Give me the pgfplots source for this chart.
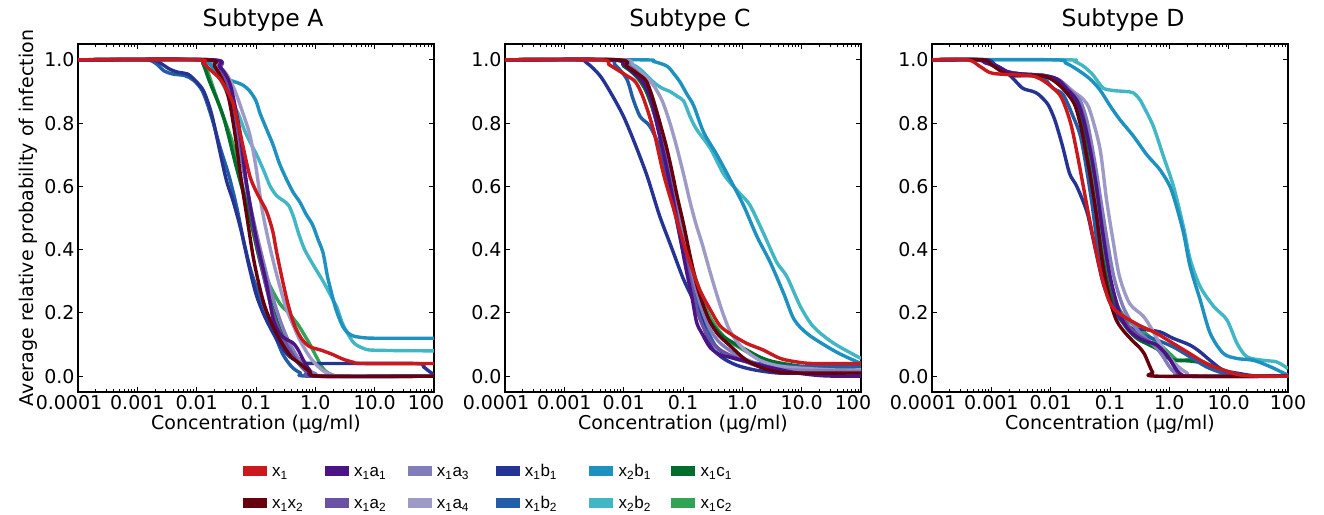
\documentclass[border=0pt]{standalone}
\usepackage{fontspec}
\setmainfont{DejaVu Sans}
\newfontfamily\legfont{Liberation Sans}
\usepackage{pgfplots}
\pgfplotsset{compat=1.18}
\definecolor{cA}{HTML}{CB181D}% x1
\definecolor{cB}{HTML}{67000D}% x1x2
\definecolor{cC}{HTML}{4A1486}% x1a1
\definecolor{cD}{HTML}{6A51A3}% x1a2
\definecolor{cE}{HTML}{807DBA}% x1a3
\definecolor{cF}{HTML}{9E9AC8}% x1a4
\definecolor{cG}{HTML}{253494}% x1b1
\definecolor{cH}{HTML}{225EA8}% x1b2
\definecolor{cI}{HTML}{1D91C0}% x2b1
\definecolor{cJ}{HTML}{41B6C4}% x2b2
\definecolor{cK}{HTML}{006D2C}% x1c1
\definecolor{cL}{HTML}{31A354}% x1c2
\newcommand{\tl}[1]{\mbox{\fontsize{19}{22}\selectfont #1}}
\newcommand{\lent}[2]{\makebox[#1pt][l]{\strut #2}}
\pgfplotsset{
  panel/.style={
    width=356pt, height=348pt, scale only axis, anchor=south west,
    xmin=-4, xmax=2, ymin=-0.05, ymax=1.05,
    xtick={-4,-3,-2,-1,0,1,2},
    minor xtick={-3.699,-3.523,-3.398,-3.301,-3.222,-3.155,-3.097,-3.046,
      -2.699,-2.523,-2.398,-2.301,-2.222,-2.155,-2.097,-2.046,
      -1.699,-1.523,-1.398,-1.301,-1.222,-1.155,-1.097,-1.046,
      -0.699,-0.523,-0.398,-0.301,-0.222,-0.155,-0.097,-0.046,
      0.301,0.477,0.602,0.699,0.778,0.845,0.903,0.954,
      1.301,1.477,1.602,1.699,1.778,1.845,1.903,1.954},
    ytick={0,0.2,0.4,0.6,0.8,1},
    yticklabels={\tl{0.0},\tl{0.2},\tl{0.4},\tl{0.6},\tl{0.8},\tl{1.0}},
    tick align=inside, xtick pos=both, ytick pos=both,
    major tick length=5pt, minor tick length=3pt,
    every tick/.style={black, line width=0.9pt},
    axis line style={line width=1.2pt, black},
    tick label style={font=\fontsize{19}{22}\selectfont},
    label style={font=\fontsize{19}{22}\selectfont},
    title style={font=\fontsize{23.5}{28}\selectfont, at={(0.5,1)}, anchor=base, yshift=11pt},
    xlabel={Concentration (µg/ml)},
    xlabel style={yshift=2pt},
  },
  cv/.style={line width=3.4pt, smooth, tension=0.5, forget plot, line join=round},
}
\begin{document}
\begin{tikzpicture}
\useasboundingbox (0,0) rectangle (1324pt,514pt);
% ---------------- Subtype A ----------------
\begin{axis}[panel, at={(78pt,122pt)}, title={Subtype A}, title style={xshift=7pt},
  xticklabels={\tl{\hspace*{-18pt}0.0001},\tl{0.001},\tl{0.01},\tl{0.1},\tl{1.0},\tl{10.0},\tl{\hspace*{-16pt}100}},
  ylabel={Average relative probability of infection}]
\addplot[cv, cL] coordinates {(-4,1)(-1.95,1)(-1.85,0.98)(-1.7,0.9)(-1.55,0.82)(-1.4,0.74)(-1.25,0.62)(-1.1,0.5)(-0.95,0.38)(-0.8,0.3)(-0.6,0.23)(-0.45,0.2)(-0.3,0.165)(-0.2,0.135)(-0.09,0.1)(0.05,0.05)(0.15,0.02)(0.3,0.003)(0.5,0)(2,0)};
\addplot[cv, cK] coordinates {(-4,1)(-2,1)(-1.9,0.99)(-1.78,0.93)(-1.55,0.82)(-1.33,0.66)(-1.1,0.5)(-0.93,0.36)(-0.76,0.24)(-0.6,0.15)(-0.45,0.09)(-0.3,0.045)(-0.15,0.015)(0,0.003)(0.2,0)(2,0)};
\addplot[cv, cJ] coordinates {(-4,1)(-1.9,1)(-1.75,0.98)(-1.6,0.94)(-1.45,0.88)(-1.3,0.83)(-1.2,0.78)(-1.1,0.74)(-0.99,0.70)(-0.87,0.65)(-0.76,0.60)(-0.65,0.57)(-0.54,0.555)(-0.45,0.54)(-0.37,0.505)(-0.28,0.45)(-0.18,0.4)(-0.03,0.35)(0.1,0.31)(0.19,0.28)(0.3,0.24)(0.36,0.22)(0.45,0.17)(0.53,0.14)(0.65,0.105)(0.81,0.088)(1.0,0.082)(2,0.08)};
\addplot[cv, cI] coordinates {(-4,1)(-2,1)(-1.8,0.99)(-1.65,0.96)(-1.5,0.94)(-1.35,0.93)(-1.22,0.92)(-1.1,0.9)(-1.0,0.87)(-0.93,0.83)(-0.82,0.78)(-0.71,0.73)(-0.6,0.67)(-0.48,0.62)(-0.37,0.58)(-0.26,0.55)(-0.15,0.51)(-0.05,0.48)(0.05,0.43)(0.13,0.39)(0.2,0.32)(0.25,0.28)(0.35,0.21)(0.47,0.155)(0.6,0.13)(0.75,0.123)(1,0.12)(2,0.12)};
\addplot[cv, cH] coordinates {(-4,1)(-2.9,1)(-2.7,0.99)(-2.55,0.965)(-2.4,0.955)(-2.2,0.95)(-2.05,0.935)(-1.9,0.9)(-1.75,0.82)(-1.6,0.72)(-1.45,0.63)(-1.32,0.53)(-1.2,0.42)(-1.08,0.33)(-0.95,0.26)(-0.82,0.2)(-0.68,0.13)(-0.55,0.07)(-0.4,0.03)(-0.25,0.01)(-0.1,0)(2,0)};
\addplot[cv, cG] coordinates {(-4,1)(-2.8,1)(-2.62,0.99)(-2.45,0.97)(-2.3,0.96)(-2.15,0.955)(-2.0,0.93)(-1.88,0.9)(-1.75,0.83)(-1.62,0.72)(-1.5,0.62)(-1.38,0.55)(-1.25,0.46)(-1.12,0.35)(-1.0,0.26)(-0.88,0.2)(-0.75,0.15)(-0.6,0.1)(-0.45,0.065)(-0.3,0.047)(-0.15,0.041)(0.2,0.04)(1.7,0.04)(1.82,0.03)(1.92,0.015)(2,0.005)};
\addplot[cv, cF] coordinates {(-4,1)(-1.8,1)(-1.62,0.98)(-1.48,0.95)(-1.35,0.9)(-1.2,0.82)(-1.1,0.76)(-1.0,0.66)(-0.9,0.53)(-0.78,0.42)(-0.65,0.32)(-0.5,0.22)(-0.37,0.16)(-0.25,0.11)(-0.09,0.06)(0.05,0.03)(0.15,0.015)(0.3,0.003)(0.5,0)(2,0)};
\addplot[cv, cE] coordinates {(-4,1)(-1.8,1)(-1.65,0.97)(-1.5,0.92)(-1.35,0.8)(-1.2,0.64)(-1.05,0.5)(-0.9,0.38)(-0.75,0.27)(-0.6,0.18)(-0.45,0.11)(-0.3,0.06)(-0.15,0.025)(0,0.008)(0.2,0)(2,0)};
\addplot[cv, cD] coordinates {(-4,1)(-1.75,1)(-1.6,0.97)(-1.45,0.91)(-1.3,0.78)(-1.18,0.63)(-1.05,0.48)(-0.92,0.36)(-0.8,0.26)(-0.68,0.18)(-0.55,0.12)(-0.42,0.08)(-0.3,0.045)(-0.15,0.015)(0,0)(2,0)};
\addplot[cv, cC] coordinates {(-4,1)(-1.75,1)(-1.62,0.98)(-1.5,0.95)(-1.41,0.905)(-1.27,0.77)(-1.16,0.61)(-1.0,0.44)(-0.82,0.29)(-0.71,0.18)(-0.6,0.135)(-0.5,0.118)(-0.37,0.104)(-0.28,0.08)(-0.2,0.05)(-0.09,0.018)(0.05,0)(2,0)};
\addplot[cv, cB] coordinates {(-4,1)(-1.85,1)(-1.7,0.98)(-1.55,0.93)(-1.45,0.87)(-1.35,0.76)(-1.25,0.62)(-1.15,0.5)(-1.05,0.38)(-0.95,0.29)(-0.85,0.22)(-0.72,0.16)(-0.55,0.1)(-0.4,0.06)(-0.26,0.04)(-0.09,0.014)(0.1,0)(2,0)};
\addplot[cv, cA] coordinates {(-4,1)(-2,1)(-1.89,0.99)(-1.75,0.965)(-1.61,0.94)(-1.48,0.9)(-1.38,0.86)(-1.28,0.78)(-1.2,0.71)(-1.1,0.63)(-1.0,0.585)(-0.93,0.56)(-0.82,0.52)(-0.72,0.46)(-0.65,0.39)(-0.55,0.3)(-0.45,0.22)(-0.35,0.16)(-0.22,0.115)(-0.09,0.093)(0.1,0.082)(0.3,0.068)(0.45,0.055)(0.64,0.044)(0.8,0.04)(2,0.04)};
\end{axis}
% ---------------- Subtype C ----------------
\begin{axis}[panel, at={(505pt,122pt)}, title={Subtype C}, title style={xshift=7pt},
  xticklabels={\tl{\hspace*{-18pt}0.0001},\tl{0.001},\tl{0.01},\tl{0.1},\tl{1.0},\tl{10.0},\tl{\hspace*{-16pt}100}},
  legend columns=6, legend cell align=left,
  legend image code/.code={\fill[#1] (0pt,-4.6pt) rectangle (23pt,4.6pt);},
  legend style={at={(-0.7368,-0.2037)}, anchor=north west, draw=none, fill=none,
    inner sep=0pt, outer sep=0pt, row sep=16.5pt,
    nodes={inner sep=0pt, font=\fontsize{17}{20}\selectfont\legfont},
    /tikz/every odd column/.append style={column sep=6pt},
    /tikz/every even column/.append style={column sep=0pt}}]
\addlegendimage{cA}\addlegendentry{\lent{52.6}{x\textsubscript{1}}}
\addlegendimage{cC}\addlegendentry{\lent{53.4}{x\textsubscript{1}a\textsubscript{1}}}
\addlegendimage{cE}\addlegendentry{\lent{58.6}{x\textsubscript{1}a\textsubscript{3}}}
\addlegendimage{cG}\addlegendentry{\lent{64.4}{x\textsubscript{1}b\textsubscript{1}}}
\addlegendimage{cI}\addlegendentry{\lent{52.6}{x\textsubscript{2}b\textsubscript{1}}}
\addlegendimage{cK}\addlegendentry{\lent{45}{x\textsubscript{1}c\textsubscript{1}}}
\addlegendimage{cB}\addlegendentry{\lent{52.6}{x\textsubscript{1}x\textsubscript{2}}}
\addlegendimage{cD}\addlegendentry{\lent{53.4}{x\textsubscript{1}a\textsubscript{2}}}
\addlegendimage{cF}\addlegendentry{\lent{58.6}{x\textsubscript{1}a\textsubscript{4}}}
\addlegendimage{cH}\addlegendentry{\lent{64.4}{x\textsubscript{1}b\textsubscript{2}}}
\addlegendimage{cJ}\addlegendentry{\lent{52.6}{x\textsubscript{2}b\textsubscript{2}}}
\addlegendimage{cL}\addlegendentry{\lent{45}{x\textsubscript{1}c\textsubscript{2}}}
\addplot[cv, cL] coordinates {(-4,1)(-2.15,1)(-1.95,0.98)(-1.75,0.95)(-1.58,0.9)(-1.42,0.8)(-1.28,0.69)(-1.13,0.57)(-0.98,0.45)(-0.85,0.35)(-0.72,0.27)(-0.58,0.2)(-0.42,0.15)(-0.25,0.115)(0,0.085)(0.3,0.055)(0.6,0.035)(1,0.025)(2,0.02)};
\addplot[cv, cK] coordinates {(-4,1)(-2.2,1)(-2.0,0.98)(-1.8,0.95)(-1.62,0.9)(-1.44,0.8)(-1.3,0.68)(-1.15,0.56)(-1.0,0.44)(-0.87,0.34)(-0.75,0.26)(-0.6,0.19)(-0.45,0.15)(-0.32,0.125)(-0.1,0.1)(0.07,0.083)(0.3,0.06)(0.52,0.046)(0.92,0.033)(1.3,0.025)(2,0.022)};
\addplot[cv, cJ] coordinates {(-4,1)(-2.05,1)(-1.9,0.99)(-1.72,0.97)(-1.5,0.93)(-1.35,0.91)(-1.22,0.9)(-1.1,0.885)(-0.99,0.87)(-0.88,0.82)(-0.77,0.78)(-0.54,0.72)(-0.32,0.64)(-0.15,0.6)(-0.03,0.575)(0.13,0.54)(0.36,0.45)(0.58,0.36)(0.75,0.315)(0.98,0.22)(1.2,0.156)(1.54,0.104)(2,0.056)};
\addplot[cv, cI] coordinates {(-4,1)(-1.7,1)(-1.5,0.995)(-1.27,0.98)(-1.15,0.955)(-1.05,0.93)(-0.93,0.89)(-0.82,0.855)(-0.65,0.77)(-0.43,0.7)(-0.2,0.62)(0.02,0.54)(0.25,0.44)(0.47,0.36)(0.7,0.26)(0.87,0.18)(1.09,0.135)(1.37,0.1)(1.65,0.07)(2,0.04)};
\addplot[cv, cH] coordinates {(-4,1)(-2.3,1)(-2.15,0.985)(-1.95,0.94)(-1.84,0.875)(-1.72,0.82)(-1.56,0.79)(-1.39,0.72)(-1.22,0.59)(-1.05,0.44)(-0.88,0.3)(-0.71,0.21)(-0.54,0.125)(-0.4,0.085)(-0.2,0.06)(0.1,0.045)(0.5,0.035)(1,0.03)(2,0.03)};
\addplot[cv, cG] coordinates {(-4,1)(-2.8,1)(-2.62,0.99)(-2.4,0.95)(-2.2,0.89)(-2.0,0.82)(-1.8,0.73)(-1.6,0.63)(-1.4,0.51)(-1.2,0.41)(-1.0,0.31)(-0.85,0.25)(-0.7,0.19)(-0.55,0.1)(-0.35,0.06)(-0.1,0.035)(0.2,0.02)(0.6,0.01)(1,0.01)(2,0.01)};
\addplot[cv, cF] coordinates {(-4,1)(-2.05,1)(-1.85,0.98)(-1.65,0.95)(-1.5,0.92)(-1.35,0.87)(-1.22,0.8)(-1.1,0.72)(-0.98,0.63)(-0.88,0.55)(-0.78,0.48)(-0.68,0.42)(-0.56,0.34)(-0.45,0.27)(-0.33,0.2)(-0.2,0.14)(0,0.09)(0.3,0.05)(0.7,0.03)(1.5,0.02)(2,0.02)};
\addplot[cv, cE] coordinates {(-4,1)(-2.1,1)(-1.9,0.98)(-1.72,0.95)(-1.55,0.9)(-1.42,0.82)(-1.3,0.72)(-1.18,0.61)(-1.05,0.5)(-0.93,0.39)(-0.8,0.29)(-0.68,0.21)(-0.55,0.15)(-0.4,0.11)(-0.2,0.08)(0.1,0.05)(0.4,0.03)(0.8,0.02)(2,0.015)};
\addplot[cv, cD] coordinates {(-4,1)(-2.15,1)(-1.95,0.98)(-1.78,0.96)(-1.62,0.92)(-1.48,0.83)(-1.35,0.73)(-1.22,0.62)(-1.1,0.5)(-0.98,0.39)(-0.86,0.29)(-0.75,0.2)(-0.62,0.14)(-0.48,0.1)(-0.3,0.075)(0,0.05)(0.3,0.03)(0.7,0.015)(1.2,0.008)(2,0.005)};
\addplot[cv, cC] coordinates {(-4,1)(-2.2,1)(-2.0,0.985)(-1.85,0.96)(-1.7,0.935)(-1.55,0.88)(-1.42,0.78)(-1.3,0.68)(-1.18,0.57)(-1.05,0.44)(-0.95,0.34)(-0.85,0.25)(-0.77,0.17)(-0.68,0.135)(-0.54,0.09)(-0.35,0.065)(-0.21,0.06)(0.1,0.045)(0.35,0.033)(0.65,0.02)(0.92,0.01)(1.3,0.002)(1.6,0)(2,0)};
\addplot[cv, cB] coordinates {(-4,1)(-2.1,1)(-1.95,0.98)(-1.8,0.96)(-1.61,0.93)(-1.45,0.84)(-1.3,0.74)(-1.2,0.66)(-1.1,0.57)(-0.99,0.48)(-0.88,0.38)(-0.77,0.29)(-0.65,0.22)(-0.54,0.17)(-0.4,0.13)(-0.2,0.095)(0.07,0.05)(0.35,0.025)(0.6,0.013)(0.92,0.01)(2,0.01)};
\addplot[cv, cA] coordinates {(-4,1)(-2.4,1)(-2.25,0.985)(-2.12,0.97)(-1.95,0.95)(-1.8,0.93)(-1.67,0.88)(-1.5,0.78)(-1.33,0.64)(-1.16,0.53)(-0.99,0.42)(-0.85,0.34)(-0.71,0.27)(-0.54,0.21)(-0.38,0.16)(-0.21,0.135)(0.07,0.104)(0.35,0.083)(0.64,0.056)(0.92,0.045)(1.2,0.04)(2,0.04)};
\end{axis}
% ---------------- Subtype D ----------------
\begin{axis}[panel, at={(932pt,122pt)}, title={Subtype D}, title style={xshift=13pt},
  xticklabels={\tl{\hspace*{-18pt}0.0001},\tl{0.001},\tl{0.01},\tl{0.1},\tl{1.0},\tl{10.0},\tl{100}}]
\addplot[cv, cL] coordinates {(-4,1)(-3.2,1)(-3.0,0.985)(-2.8,0.965)(-2.5,0.955)(-2.1,0.95)(-1.85,0.93)(-1.66,0.9)(-1.53,0.86)(-1.43,0.78)(-1.33,0.66)(-1.23,0.53)(-1.13,0.4)(-1.03,0.3)(-0.9,0.23)(-0.72,0.18)(-0.5,0.15)(-0.3,0.12)(-0.1,0.09)(0.1,0.055)(0.17,0.051)(0.51,0.05)(0.79,0.025)(1.19,0.003)(1.5,0)(2,0)};
\addplot[cv, cK] coordinates {(-4,1)(-3.2,1)(-3.0,0.985)(-2.8,0.965)(-2.5,0.955)(-2.1,0.95)(-1.85,0.93)(-1.68,0.9)(-1.55,0.86)(-1.45,0.78)(-1.35,0.66)(-1.25,0.53)(-1.15,0.4)(-1.05,0.3)(-0.92,0.22)(-0.75,0.16)(-0.55,0.12)(-0.35,0.1)(-0.2,0.085)(-0.05,0.06)(0.1,0.05)(0.35,0.048)(0.6,0.04)(0.85,0.02)(1.2,0.004)(1.6,0)(2,0)};
\addplot[cv, cJ] coordinates {(-4,1)(-1.75,1)(-1.6,0.995)(-1.45,0.98)(-1.3,0.955)(-1.2,0.93)(-1.11,0.91)(-0.95,0.903)(-0.75,0.9)(-0.61,0.896)(-0.5,0.875)(-0.44,0.855)(-0.27,0.79)(-0.1,0.695)(0.07,0.6)(0.24,0.47)(0.35,0.37)(0.52,0.283)(0.75,0.22)(0.97,0.178)(1.14,0.104)(1.31,0.061)(1.59,0.05)(1.81,0.045)(2,0.024)};
\addplot[cv, cI] coordinates {(-4,1)(-1.95,1)(-1.75,0.99)(-1.56,0.97)(-1.34,0.94)(-1.17,0.905)(-1.0,0.855)(-0.83,0.81)(-0.61,0.76)(-0.38,0.7)(-0.16,0.653)(0.01,0.6)(0.12,0.537)(0.24,0.452)(0.35,0.347)(0.52,0.241)(0.69,0.135)(0.91,0.072)(1.14,0.056)(1.42,0.05)(1.7,0.03)(2,0.003)};
\addplot[cv, cH] coordinates {(-4,1)(-3.1,1)(-2.92,0.98)(-2.75,0.96)(-2.6,0.95)(-2.18,0.95)(-1.96,0.91)(-1.79,0.89)(-1.62,0.82)(-1.5,0.76)(-1.4,0.66)(-1.3,0.54)(-1.2,0.4)(-1.1,0.3)(-0.95,0.21)(-0.78,0.17)(-0.5,0.135)(-0.22,0.115)(0.06,0.093)(0.34,0.062)(0.62,0.03)(0.9,0.01)(1.2,0.002)(1.5,0)(2,0)};
\addplot[cv, cG] coordinates {(-4,1)(-3.1,1)(-2.95,0.985)(-2.8,0.97)(-2.63,0.94)(-2.47,0.91)(-2.3,0.9)(-2.2,0.89)(-2.05,0.86)(-1.95,0.82)(-1.88,0.78)(-1.79,0.72)(-1.68,0.64)(-1.56,0.6)(-1.39,0.52)(-1.28,0.43)(-1.11,0.29)(-0.94,0.22)(-0.78,0.17)(-0.6,0.148)(-0.44,0.148)(-0.16,0.14)(0.06,0.12)(0.34,0.099)(0.51,0.078)(0.68,0.051)(0.9,0.02)(1.19,0.008)(1.5,0)(2,0)};
\addplot[cv, cF] coordinates {(-4,1)(-3.2,1)(-3.0,0.985)(-2.8,0.965)(-2.5,0.955)(-2.1,0.95)(-1.85,0.935)(-1.62,0.9)(-1.45,0.875)(-1.34,0.84)(-1.17,0.72)(-1.06,0.56)(-0.95,0.43)(-0.84,0.315)(-0.67,0.23)(-0.44,0.19)(-0.3,0.15)(-0.15,0.1)(0,0.06)(0.15,0.03)(0.3,0.01)(0.45,0)(2,0)};
\addplot[cv, cE] coordinates {(-4,1)(-3.2,1)(-3.0,0.985)(-2.8,0.965)(-2.5,0.955)(-2.1,0.95)(-1.85,0.935)(-1.65,0.9)(-1.5,0.87)(-1.38,0.8)(-1.26,0.68)(-1.15,0.55)(-1.04,0.42)(-0.93,0.31)(-0.78,0.22)(-0.6,0.16)(-0.4,0.12)(-0.22,0.09)(-0.1,0.06)(0,0.03)(0.1,0.01)(0.25,0)(2,0)};
\addplot[cv, cD] coordinates {(-4,1)(-3.2,1)(-3.0,0.985)(-2.8,0.965)(-2.5,0.955)(-2.1,0.95)(-1.85,0.935)(-1.68,0.9)(-1.52,0.86)(-1.4,0.78)(-1.28,0.66)(-1.17,0.52)(-1.06,0.38)(-0.95,0.27)(-0.8,0.19)(-0.6,0.14)(-0.4,0.115)(-0.2,0.095)(-0.05,0.07)(0.05,0.04)(0.15,0.012)(0.28,0)(2,0)};
\addplot[cv, cC] coordinates {(-4,1)(-3.25,1)(-3.1,0.99)(-2.92,0.98)(-2.69,0.96)(-2.47,0.955)(-2.13,0.95)(-1.9,0.94)(-1.74,0.91)(-1.57,0.875)(-1.46,0.82)(-1.34,0.72)(-1.23,0.6)(-1.12,0.45)(-1.0,0.315)(-0.84,0.2)(-0.7,0.15)(-0.55,0.125)(-0.39,0.11)(-0.22,0.1)(-0.08,0.075)(0.02,0.05)(0.12,0.02)(0.23,0.002)(0.4,0)(2,0)};
\addplot[cv, cB] coordinates {(-4,1)(-3.15,1)(-3.0,0.985)(-2.8,0.96)(-2.6,0.95)(-2.2,0.95)(-2.0,0.94)(-1.8,0.91)(-1.6,0.86)(-1.48,0.78)(-1.4,0.7)(-1.34,0.64)(-1.23,0.51)(-1.12,0.35)(-1.0,0.24)(-0.9,0.18)(-0.78,0.145)(-0.61,0.11)(-0.5,0.09)(-0.42,0.07)(-0.35,0.04)(-0.28,0.012)(-0.2,0)(2,0)};
\addplot[cv, cA] coordinates {(-4,1)(-3.4,1)(-3.2,0.98)(-3.03,0.96)(-2.86,0.955)(-2.35,0.95)(-2.18,0.94)(-2.02,0.92)(-1.85,0.89)(-1.75,0.85)(-1.65,0.79)(-1.55,0.7)(-1.45,0.6)(-1.35,0.5)(-1.23,0.39)(-1.12,0.3)(-1.02,0.24)(-0.92,0.21)(-0.78,0.19)(-0.5,0.16)(-0.22,0.136)(0.06,0.104)(0.34,0.072)(0.62,0.04)(0.9,0.02)(1.19,0.004)(1.5,0)(2,0)};
\end{axis}
\end{tikzpicture}
\end{document}
